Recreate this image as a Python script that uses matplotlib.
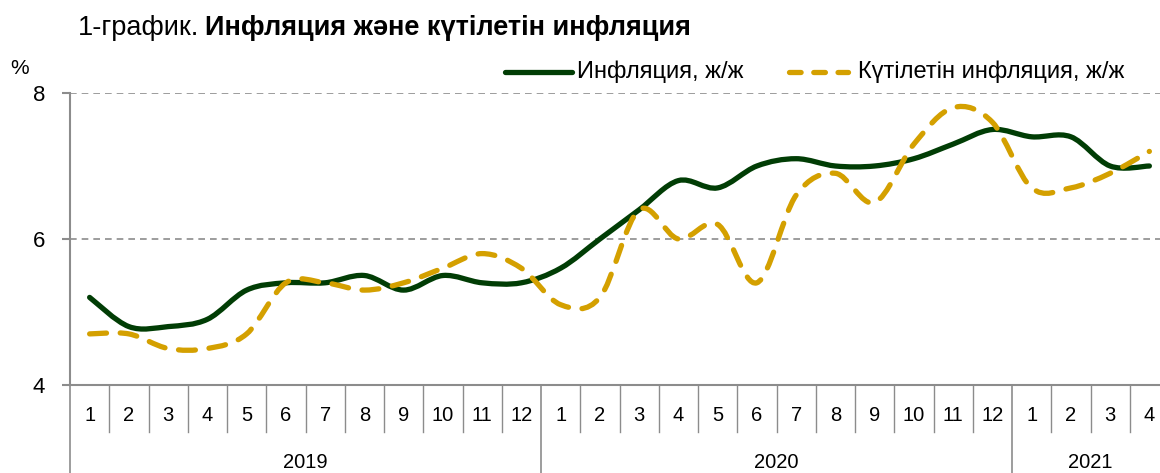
import matplotlib
matplotlib.use("Agg")
import matplotlib.pyplot as plt
import matplotlib.transforms as mtransforms
from matplotlib.path import Path
from matplotlib.patches import PathPatch

plt.rcParams['font.family'] = ['Liberation Sans', 'DejaVu Sans']

# data
months = list(range(1, 13)) + list(range(1, 13)) + list(range(1, 5))
years = ['2019', '2020', '2021']
year_lengths = [12, 12, 4]
inflation = [5.2, 4.8, 4.8, 4.9, 5.3, 5.4, 5.4, 5.5, 5.3, 5.5, 5.4, 5.4,
             5.6, 6.0, 6.4, 6.8, 6.7, 7.0, 7.1, 7.0, 7.0, 7.1, 7.3, 7.5,
             7.4, 7.4, 7.0, 7.0]
expected = [4.7, 4.7, 4.5, 4.5, 4.7, 5.4, 5.4, 5.3, 5.4, 5.6, 5.8, 5.6,
            5.1, 5.2, 6.4, 6.0, 6.2, 5.4, 6.6, 6.9, 6.5, 7.3, 7.8, 7.6,
            6.7, 6.7, 6.9, 7.2]

GREEN = '#013d05'
GOLD = '#d4a000'
GREY = '#8c8c8c'


def smooth_path(y):
    # excel-like smoothed line as bezier segments
    n = len(y)
    verts = [(0, y[0])]
    codes = [Path.MOVETO]
    for i in range(n - 1):
        a = max(i - 1, 0)
        b = min(i + 2, n - 1)
        c1 = (i + (i + 1 - a) / 6, y[i] + (y[i + 1] - y[a]) / 6)
        c2 = (i + 1 - (b - i) / 6, y[i + 1] - (y[b] - y[i]) / 6)
        verts += [c1, c2, (i + 1, y[i + 1])]
        codes += [Path.CURVE4] * 3
    return Path(verts, codes)


fig = plt.figure(figsize=(11.6, 4.73), dpi=100)
W, H = 1160, 473
ax = fig.add_axes([70 / W, 1 - 385 / H, 1099 / W, (385 - 93) / H])

n = len(months)
ax.set_xlim(-0.5, n - 0.5)
ax.set_ylim(4, 8)

for v in [6, 8]:
    ax.axhline(v, color=GREY, lw=1.2, ls=(0, (4, 3)), zorder=1)

green = PathPatch(smooth_path(inflation), fill=False, edgecolor=GREEN, lw=3.8,
                  capstyle='round', joinstyle='round', zorder=3)
ax.add_patch(green)
gold = PathPatch(smooth_path(expected), fill=False, edgecolor=GOLD, lw=3.8,
                 linestyle=(0, (3.2, 2.6)), capstyle='round', joinstyle='round', zorder=4)
ax.add_patch(gold)

for s in ['top', 'right']:
    ax.spines[s].set_visible(False)
ax.spines['left'].set_color(GREY)
ax.spines['left'].set_linewidth(1.5)
ax.spines['bottom'].set_color(GREY)
ax.spines['bottom'].set_linewidth(1.5)

ax.set_yticks([4, 6, 8])
ax.tick_params(axis='y', length=6, width=1.5, color=GREY, labelsize=16, pad=12)
ax.set_xticks([])

# category axis
trans = mtransforms.blended_transform_factory(ax.transData, ax.transAxes)
month_bottom = (385 - 432) / (385 - 93)
year_bottom = (385 - 480) / (385 - 93)
for i, m in enumerate(months):
    ax.text(i, (385 - 415) / (385 - 93), str(m), transform=trans, ha='center', va='center',
            fontsize=14.5)
start = 0
bounds = [0]
for y, L in zip(years, year_lengths):
    ax.text(start + L / 2 - 0.5, (385 - 462) / (385 - 93), y, transform=trans,
            ha='center', va='center', fontsize=14.5)
    start += L
    bounds.append(start)
for i in range(1, n):
    if i in bounds:
        continue
    ax.plot([i - 0.5, i - 0.5], [0, month_bottom], transform=trans, color=GREY,
            lw=1, clip_on=False)
for b in bounds:
    ax.plot([b - 0.5, b - 0.5], [0, year_bottom], transform=trans, color=GREY,
            lw=1.2, clip_on=False)

# title and labels
t1 = fig.text(78 / W, 1 - 28 / H, '1-график.', fontsize=19.5, va='center', ha='left')
fig.canvas.draw()
ext = t1.get_window_extent()
fig.text((ext.x1 + 6) / W, 1 - 28 / H, 'Инфляция жəне күтілетін инфляция', fontsize=19.5,
         fontweight='bold', va='center', ha='left')
fig.text(10 / W, 1 - 68 / H, '%', fontsize=15, va='center', ha='left')

# legend
fig.lines.append(plt.Line2D([505 / W, 572 / W], [1 - 72 / H] * 2, transform=fig.transFigure,
                            color=GREEN, lw=3.8, solid_capstyle='round'))
fig.text(577 / W, 1 - 72 / H, 'Инфляция, ж/ж', fontsize=17, va='center', ha='left')
fig.lines.append(plt.Line2D([789 / W, 848 / W], [1 - 72 / H] * 2, transform=fig.transFigure,
                            color=GOLD, lw=3.8, dash_capstyle='round',
                            linestyle=(0, (2.2, 2.4))))
fig.text(858 / W, 1 - 72 / H, 'Күтілетін инфляция, ж/ж', fontsize=17, va='center', ha='left')

fig.savefig('out.png', dpi=100)
